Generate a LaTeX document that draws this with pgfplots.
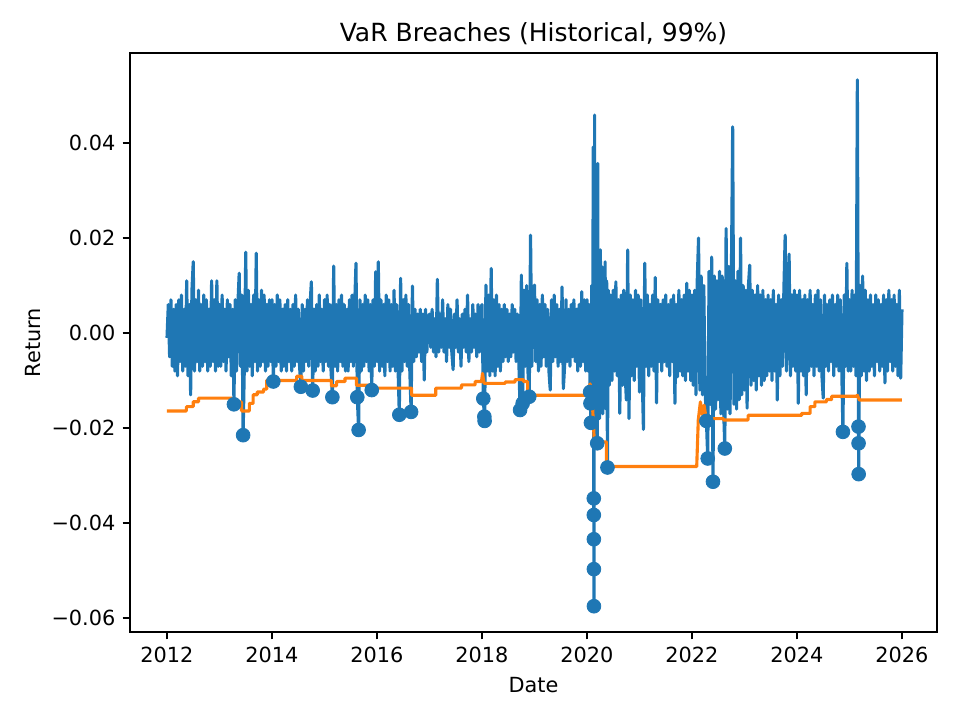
\documentclass[border=0pt]{standalone}
\usepackage{fontspec}
\setmainfont{DejaVu Sans}
\usepackage{pgfplots}
\pgfplotsset{compat=1.18}
\usepackage{pgfplotstable}
\definecolor{C0}{HTML}{1F77B4}
\definecolor{C1}{HTML}{FF7F0E}
\pgfplotstableread{
x y
2012.000 -0.001
2012.025 0.006
2012.050 -0.005
2012.075 0.007
2012.100 -0.007
2012.125 0.005
2012.150 -0.008
2012.175 0.006
2012.200 -0.009
2012.225 0.007
2012.250 -0.006
2012.275 0.008
2012.300 -0.008
2012.325 0.005
2012.350 -0.007
2012.375 0.011
2012.400 -0.009
2012.425 0.006
2012.450 -0.013
2012.475 0.009
2012.500 0.015
2012.525 -0.008
2012.550 0.007
2012.575 -0.006
2012.600 0.009
2012.625 -0.008
2012.650 0.006
2012.675 -0.007
2012.700 0.008
2012.725 -0.006
2012.750 0.007
2012.775 -0.008
2012.800 0.005
2012.825 -0.007
2012.850 0.011
2012.875 -0.006
2012.900 0.007
2012.925 -0.008
2012.950 0.011
2012.975 -0.007
2013.000 0.006
2013.025 -0.007
2013.050 0.008
2013.075 -0.006
2013.100 0.005
2013.125 -0.008
2013.150 0.007
2013.175 -0.005
2013.200 0.006
2013.225 -0.009
2013.250 0.005
2013.275 -0.015
2013.300 0.007
2013.325 -0.008
2013.350 0.006
2013.375 0.0126
2013.400 -0.007
2013.425 0.008
2013.450 -0.0215
2013.475 -0.006
2013.500 0.017
2013.525 -0.008
2013.550 0.009
2013.575 -0.007
2013.600 0.006
2013.625 -0.009
2013.650 0.008
2013.675 -0.006
2013.700 0.0168
2013.725 -0.008
2013.750 0.007
2013.775 -0.007
2013.800 0.009
2013.825 -0.006
2013.850 0.008
2013.875 -0.008
2013.900 0.006
2013.925 -0.007
2013.950 0.007
2013.975 -0.006
2014.000 0.007
2014.025 -0.0102
2014.050 0.006
2014.075 -0.007
2014.100 0.008
2014.125 -0.006
2014.150 0.007
2014.175 -0.008
2014.200 0.005
2014.225 -0.007
2014.250 0.006
2014.275 -0.008
2014.300 0.007
2014.325 -0.006
2014.350 0.005
2014.375 -0.008
2014.400 0.006
2014.425 -0.007
2014.450 0.008
2014.475 -0.006
2014.500 0.005
2014.525 -0.007
2014.550 -0.0113
2014.575 0.006
2014.600 -0.008
2014.625 0.005
2014.650 -0.006
2014.675 0.007
2014.700 -0.007
2014.725 0.006
2014.750 0.0108
2014.775 -0.0121
2014.800 0.005
2014.825 -0.008
2014.850 0.006
2014.875 -0.007
2014.900 0.008
2014.925 -0.006
2014.950 0.005
2014.975 -0.008
2015.000 0.007
2015.025 -0.006
2015.050 0.008
2015.075 -0.007
2015.100 0.006
2015.125 -0.008
2015.150 -0.0135
2015.175 0.0141
2015.200 -0.007
2015.225 0.006
2015.250 -0.008
2015.275 0.007
2015.300 -0.006
2015.325 0.008
2015.350 -0.007
2015.375 0.006
2015.400 -0.008
2015.425 0.005
2015.450 -0.008
2015.475 0.007
2015.500 -0.006
2015.525 0.008
2015.550 -0.007
2015.575 0.006
2015.600 0.0147
2015.625 -0.0135
2015.650 -0.0204
2015.675 0.007
2015.700 -0.008
2015.725 0.006
2015.750 -0.007
2015.775 0.008
2015.800 -0.006
2015.825 0.007
2015.850 -0.008
2015.875 0.006
2015.900 -0.012
2015.925 0.007
2015.950 -0.007
2015.975 0.0129
2016.000 -0.006
2016.025 0.015
2016.050 -0.008
2016.075 0.007
2016.100 -0.007
2016.125 0.006
2016.150 -0.009
2016.175 0.008
2016.200 -0.006
2016.225 0.007
2016.250 -0.008
2016.275 0.006
2016.300 -0.007
2016.325 0.009
2016.350 -0.008
2016.375 0.006
2016.400 -0.007
2016.425 -0.0172
2016.450 0.0115
2016.475 -0.008
2016.500 0.007
2016.525 -0.006
2016.550 0.008
2016.575 -0.007
2016.600 0.006
2016.625 -0.008
2016.650 -0.0166
2016.675 0.0099
2016.700 -0.006
2016.725 0.005
2016.750 -0.005
2016.775 0.004
2016.800 -0.004
2016.825 0.005
2016.850 -0.006
2016.875 0.004
2016.900 -0.0099
2016.925 0.005
2016.950 -0.004
2016.975 0.003
2017.000 0.004
2017.025 -0.003
2017.050 0.005
2017.075 -0.004
2017.100 0.003
2017.125 -0.005
2017.150 0.0113
2017.175 -0.004
2017.200 0.004
2017.225 -0.003
2017.250 0.007
2017.275 -0.004
2017.300 0.003
2017.325 -0.006
2017.350 0.006
2017.375 -0.003
2017.400 0.005
2017.425 -0.004
2017.450 -0.0077
2017.475 0.004
2017.500 -0.003
2017.525 0.007
2017.550 -0.004
2017.575 0.003
2017.600 -0.007
2017.625 0.004
2017.650 -0.003
2017.675 0.005
2017.700 -0.004
2017.725 0.008
2017.750 -0.006
2017.775 0.003
2017.800 -0.004
2017.825 0.006
2017.850 -0.003
2017.875 0.004
2017.900 -0.005
2017.925 0.006
2017.950 -0.004
2017.975 0.005
2018.000 0.006
2018.025 -0.0138
2018.050 -0.0185
2018.075 0.0101
2018.100 -0.008
2018.125 0.008
2018.150 -0.009
2018.175 0.0136
2018.200 -0.008
2018.225 0.007
2018.250 -0.009
2018.275 0.008
2018.300 -0.007
2018.325 0.006
2018.350 -0.008
2018.375 0.005
2018.400 -0.006
2018.425 0.006
2018.450 -0.005
2018.475 0.005
2018.500 -0.006
2018.525 0.004
2018.550 -0.005
2018.575 0.006
2018.600 -0.004
2018.625 0.005
2018.650 -0.006
2018.675 0.004
2018.700 -0.005
2018.725 -0.0162
2018.750 0.0122
2018.775 -0.0148
2018.800 0.009
2018.825 -0.007
2018.850 0.010
2018.875 -0.008
2018.900 -0.0134
2018.925 0.0206
2018.950 -0.007
2018.975 0.008
2019.000 0.0101
2019.025 -0.006
2019.050 0.007
2019.075 -0.008
2019.100 0.006
2019.125 -0.007
2019.150 0.008
2019.175 -0.005
2019.200 0.006
2019.225 -0.007
2019.250 0.005
2019.275 -0.008
2019.300 -0.012
2019.325 0.007
2019.350 -0.006
2019.375 0.008
2019.400 -0.005
2019.425 0.006
2019.450 -0.007
2019.475 0.005
2019.500 -0.006
2019.525 0.0097
2019.550 -0.0117
2019.575 -0.0067
2019.600 0.007
2019.625 -0.006
2019.650 0.005
2019.675 -0.007
2019.700 0.006
2019.725 -0.005
2019.750 0.007
2019.775 -0.006
2019.800 0.005
2019.825 -0.008
2019.850 0.006
2019.875 -0.007
2019.900 0.0087
2019.925 -0.006
2019.950 0.007
2019.975 -0.008
2020.000 0.007
2020.020 -0.008
2020.040 0.006
2020.060 -0.0124
2020.075 -0.0189
2020.090 0.010
2020.105 -0.013
2020.120 0.0392
2020.1325 -0.0575
2020.145 0.0459
2020.155 -0.020
2020.165 0.017
2020.175 -0.017
2020.185 0.025
2020.195 -0.0232
2020.205 0.0357
2020.215 -0.016
2020.225 0.015
2020.240 -0.018
2020.255 0.0175
2020.270 -0.015
2020.285 0.014
2020.300 -0.017
2020.315 0.012
2020.330 -0.014
2020.345 0.015
2020.360 -0.016
2020.375 0.011
2020.390 -0.0283
2020.405 0.009
2020.425 -0.011
2020.450 0.008
2020.475 -0.010
2020.500 0.009
2020.525 -0.008
2020.550 0.0108
2020.575 -0.009
2020.600 0.007
2020.625 -0.0169
2020.650 0.008
2020.675 -0.011
2020.700 0.009
2020.725 -0.008
2020.750 -0.0141
2020.775 0.0175
2020.800 -0.018
2020.825 0.008
2020.850 -0.009
2020.875 0.007
2020.900 -0.010
2020.925 0.009
2020.950 -0.007
2020.975 0.008
2021.000 -0.0124
2021.025 0.007
2021.050 -0.008
2021.075 -0.0203
2021.100 0.0147
2021.125 -0.007
2021.150 0.008
2021.175 -0.009
2021.200 0.006
2021.225 -0.007
2021.250 0.008
2021.275 -0.008
2021.300 0.0117
2021.325 -0.0147
2021.350 0.007
2021.375 -0.006
2021.400 0.006
2021.425 -0.008
2021.450 0.007
2021.475 -0.006
2021.500 0.008
2021.525 -0.007
2021.550 0.006
2021.575 -0.009
2021.600 0.007
2021.625 -0.006
2021.650 0.008
2021.675 -0.0148
2021.700 0.006
2021.725 -0.0092
2021.750 0.009
2021.775 -0.008
2021.800 0.007
2021.825 -0.009
2021.850 0.008
2021.875 -0.010
2021.900 0.0105
2021.925 -0.008
2021.950 0.009
2021.975 -0.010
2022.000 0.008
2022.025 -0.011
2022.050 0.009
2022.075 -0.013
2022.100 0.011
2022.125 0.020
2022.150 -0.012
2022.175 0.012
2022.200 -0.013
2022.225 0.010
2022.250 -0.012
2022.275 -0.0185
2022.300 -0.0264
2022.325 0.013
2022.350 -0.015
2022.375 0.016
2022.400 -0.0313
2022.425 0.012
2022.450 -0.016
2022.475 0.011
2022.500 -0.014
2022.525 0.013
2022.550 -0.017
2022.575 0.012
2022.600 -0.015
2022.625 -0.0243
2022.650 0.022
2022.675 -0.016
2022.700 0.014
2022.725 -0.017
2022.750 0.012
2022.775 0.0434
2022.800 -0.015
2022.825 0.011
2022.850 -0.016
2022.875 0.013
2022.900 -0.014
2022.925 0.020
2022.950 -0.013
2022.975 0.010
2023.000 -0.012
2023.025 0.009
2023.050 -0.0158
2023.075 0.010
2023.100 0.0143
2023.125 -0.011
2023.150 0.009
2023.175 -0.010
2023.200 0.008
2023.225 -0.012
2023.250 0.010
2023.275 -0.009
2023.300 0.008
2023.325 -0.011
2023.350 0.009
2023.375 -0.010
2023.400 0.007
2023.425 -0.009
2023.450 0.008
2023.475 -0.008
2023.500 0.007
2023.525 -0.010
2023.550 0.009
2023.575 -0.008
2023.600 0.006
2023.625 -0.0141
2023.650 0.008
2023.675 -0.009
2023.700 0.007
2023.725 -0.007
2023.750 0.009
2023.775 0.0206
2023.800 -0.008
2023.825 0.007
2023.850 0.0166
2023.875 -0.009
2023.900 0.008
2023.925 -0.007
2023.950 0.009
2023.975 -0.008
2024.000 0.008
2024.025 -0.0148
2024.050 0.009
2024.075 -0.008
2024.100 0.007
2024.125 -0.009
2024.150 0.008
2024.175 -0.013
2024.200 0.007
2024.225 -0.008
2024.250 0.009
2024.275 -0.007
2024.300 0.006
2024.325 -0.009
2024.350 0.008
2024.375 -0.007
2024.400 0.009
2024.425 -0.008
2024.450 0.007
2024.475 -0.009
2024.500 -0.0137
2024.525 0.008
2024.550 -0.007
2024.575 0.006
2024.600 -0.008
2024.625 0.007
2024.650 -0.006
2024.675 0.008
2024.700 -0.009
2024.725 0.006
2024.750 -0.007
2024.775 0.008
2024.800 -0.008
2024.825 0.007
2024.850 -0.006
2024.875 -0.0208
2024.900 0.008
2024.925 -0.007
2024.950 0.0147
2024.975 -0.008
2025.000 0.007
2025.025 -0.008
2025.050 0.009
2025.075 -0.007
2025.100 0.008
2025.125 -0.009
2025.150 0.0533
2025.175 -0.0297
2025.200 0.010
2025.225 -0.009
2025.250 0.012
2025.275 -0.008
2025.300 0.009
2025.325 -0.010
2025.350 0.007
2025.375 -0.008
2025.400 0.008
2025.425 -0.007
2025.450 0.006
2025.475 -0.009
2025.500 0.008
2025.525 -0.006
2025.550 0.007
2025.575 -0.008
2025.600 0.006
2025.625 -0.007
2025.650 0.008
2025.675 -0.0105
2025.700 0.007
2025.725 -0.008
2025.750 0.009
2025.775 -0.006
2025.800 0.007
2025.825 -0.008
2025.850 0.008
2025.875 -0.007
2025.900 0.006
2025.925 -0.009
2025.950 0.009
2025.975 -0.0095
2026.000 0.005
}\ret
\pgfplotstableread{
x y
2012.00 -0.0164
2012.37 -0.0164
2012.37 -0.0155
2012.50 -0.0155
2012.50 -0.01445
2012.60 -0.01445
2012.60 -0.0137
2013.23 -0.0137
2013.23 -0.0145
2013.42 -0.0145
2013.42 -0.0164
2013.57 -0.0164
2013.57 -0.0148
2013.64 -0.0148
2013.64 -0.0130
2013.72 -0.0130
2013.72 -0.0124
2013.84 -0.0124
2013.84 -0.0118
2013.90 -0.0118
2013.90 -0.0099
2013.97 -0.0099
2013.97 -0.0092
2014.09 -0.0092
2014.09 -0.0100
2014.47 -0.0100
2014.47 -0.0091
2014.57 -0.0091
2014.57 -0.0100
2015.13 -0.0100
2015.13 -0.0111
2015.23 -0.0111
2015.23 -0.0102
2015.39 -0.0102
2015.39 -0.0095
2015.61 -0.0095
2015.61 -0.0110
2015.87 -0.0110
2015.87 -0.0116
2016.66 -0.0116
2016.66 -0.0131
2017.12 -0.0131
2017.12 -0.0116
2017.61 -0.0116
2017.61 -0.0109
2017.87 -0.0109
2017.87 -0.0102
2017.99 -0.0102
2018.01 -0.0085
2018.04 -0.0106
2018.44 -0.0106
2018.44 -0.0103
2018.63 -0.0103
2018.63 -0.0098
2018.79 -0.0098
2018.79 -0.0102
2018.87 -0.0102
2018.87 -0.0131
2019.99 -0.0131
2020.06 -0.0107
2020.10 -0.0141
2020.12 -0.0187
2020.14 -0.0229
2020.37 -0.0229
2020.37 -0.0281
2022.09 -0.0281
2022.12 -0.0183
2022.16 -0.0145
2022.20 -0.0172
2022.23 -0.0152
2022.27 -0.0180
2022.60 -0.0180
2022.60 -0.0183
2023.07 -0.0183
2023.07 -0.0173
2024.09 -0.0173
2024.09 -0.0169
2024.25 -0.0169
2024.25 -0.0155
2024.34 -0.0155
2024.34 -0.0145
2024.56 -0.0145
2024.56 -0.0140
2024.66 -0.0140
2024.66 -0.0133
2025.13 -0.0133
2025.15 -0.0131
2025.19 -0.0141
2026.00 -0.0141
}\var
\pgfplotstableread{
x y
2013.275 -0.0150
2013.450 -0.0215
2014.025 -0.0102
2014.550 -0.0113
2014.775 -0.0121
2015.150 -0.0135
2015.625 -0.0135
2015.650 -0.0204
2015.900 -0.0120
2016.425 -0.0172
2016.650 -0.0166
2018.025 -0.0138
2018.045 -0.0176
2018.050 -0.0185
2018.725 -0.0162
2018.775 -0.0148
2018.900 -0.0134
2020.060 -0.0124
2020.0655 -0.0148
2020.075 -0.0189
2020.1296 -0.0348
2020.1300 -0.0383
2020.1307 -0.0434
2020.1315 -0.0497
2020.1325 -0.0575
2020.195 -0.0232
2020.390 -0.0283
2022.275 -0.0185
2022.300 -0.0264
2022.400 -0.0313
2022.625 -0.0243
2024.875 -0.0208
2025.172 -0.0197
2025.173 -0.0232
2025.175 -0.0297
}\brk
\begin{document}
\begin{tikzpicture}
\begin{axis}[
  scale only axis, width=387.4pt, height=278pt,
  xmin=2011.295, xmax=2026.667, ymin=-0.06295, ymax=0.05895,
  scaled y ticks=false, scaled x ticks=false,
  axis line style={line width=0.8pt},
  tick style={line width=0.8pt, black},
  major tick length=3.5pt, tick align=outside,
  xtick pos=bottom, ytick pos=left,
  xtick={2012,2014,2016,2018,2020,2022,2024,2026},
  xticklabels={2012,2014,2016,2018,2020,2022,2024,2026},
  ytick={-0.06,-0.04,-0.02,0,0.02,0.04},
  yticklabels={−0.06,−0.04,−0.02,0.00,0.02,0.04},
  tick label style={font=\fontsize{10}{12}\selectfont},
  label style={font=\fontsize{10}{12}\selectfont},
  title={VaR Breaches (Historical, 99\%)},
  title style={font=\fontsize{12}{14}\selectfont, at={(axis description cs:0.5,0.9986)}, anchor=base},
  xlabel={Date},
  xlabel style={at={(axis description cs:0.5,-0.0914)}, anchor=center},
  ylabel={Return},
  ylabel style={at={(axis description cs:-0.1203,0.5)}, anchor=center, rotate=0},
]
\addplot[C0, line width=1.5pt, line join=round, no markers] table {\ret};
\addplot[only marks, mark=*, mark size=3.3pt, mark options={draw=C0, fill=C0}] table {\brk};
\addplot[C1, line width=1.5pt, line join=round, no markers] table {\var};
\coordinate (bl) at (rel axis cs:0,0);
\coordinate (tr) at (rel axis cs:1,1);
\end{axis}
\pgfresetboundingbox
\path[use as bounding box] ([xshift=-62.4pt,yshift=-42.24pt]bl) rectangle ([xshift=11.04pt,yshift=25.44pt]tr);
\end{tikzpicture}
\end{document}
